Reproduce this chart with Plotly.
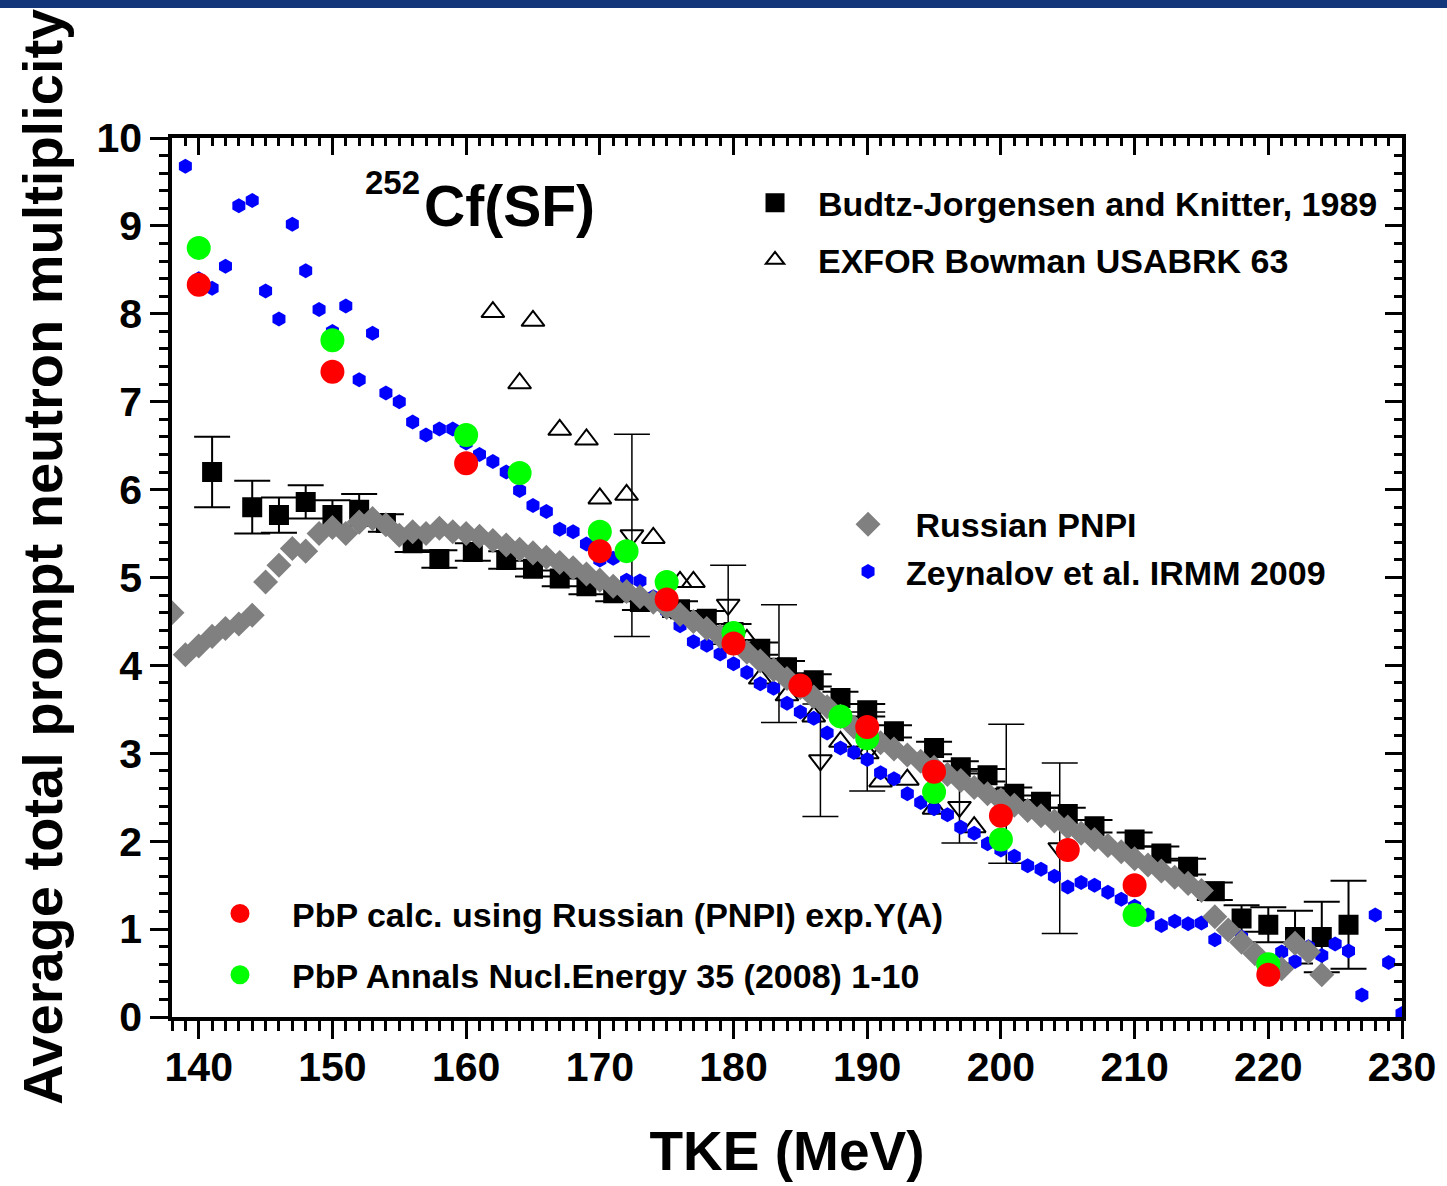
import plotly.graph_objects as go

# ---- Budtz-Jorgensen and Knitter, 1989 (squares with uncertainties)
bj_tke = [141, 144, 146, 148, 150, 152, 154, 156, 158, 160.5, 163, 165, 167, 169, 171, 173,
          176, 178, 180, 182, 184, 186, 188, 190, 192, 195, 197, 199, 201, 203, 205, 207,
          210, 212, 214, 216, 218, 220, 222, 224, 226]
bj_nu = [6.20, 5.80, 5.71, 5.86, 5.71, 5.77, 5.62, 5.39, 5.21, 5.29, 5.20, 5.10, 4.99, 4.90, 4.82, 4.72,
         4.64, 4.53, 4.38, 4.19, 3.98, 3.83, 3.63, 3.49, 3.25, 3.06, 2.84, 2.75, 2.54, 2.45, 2.31, 2.17,
         2.02, 1.86, 1.71, 1.43, 1.12, 1.05, 0.91, 0.91, 1.05]
bj_err = [0.40, 0.30, 0.20, 0.19, 0.17, 0.18, 0.10, 0.10, 0.10, 0.10, 0.10, 0.09, 0.09, 0.09, 0.09, 0.09,
          0.09, 0.09, 0.09, 0.07, 0.07, 0.07, 0.07, 0.07, 0.07, 0.07, 0.07, 0.07, 0.07, 0.07, 0.07, 0.07,
          0.08, 0.08, 0.09, 0.10, 0.15, 0.20, 0.30, 0.40, 0.50]

# ---- EXFOR Bowman USABRK 63 (open up-triangles)
bow_tke = [162, 164, 165, 167, 169, 170, 172, 174, 176, 177, 181, 182, 184, 186, 188, 190, 191,
           193, 195, 198]
bow_nu = [8.02, 7.21, 7.92, 6.68, 6.57, 5.90, 5.94, 5.45, 4.95, 4.95, 4.29, 3.85, 3.66, 3.42, 3.13,
          3.00, 2.68, 2.70, 2.37, 2.16]

# ---- further EXFOR points with uncertainties (open down-triangles)
bowd_tke = [172.4, 179.6, 183.4, 186.5, 190.0, 196.9, 200.4, 204.4]
bowd_nu = [5.48, 4.69, 4.02, 2.92, 3.02, 2.39, 2.54, 1.92]
bowd_err = [1.15, 0.45, 0.67, 0.64, 0.45, 0.41, 0.79, 0.97]

# ---- Zeynalov et al. IRMM 2009 (blue hexagons, 1 MeV steps)
zey_tke = list(range(139, 231))
zey_nu = [9.68, 8.40, 8.29, 8.54, 9.23, 9.29, 8.26, 7.94, 9.02, 8.49,
          8.05, 7.80, 8.09, 7.25, 7.78, 7.10, 7.00, 6.77, 6.62, 6.69,
          6.69, 6.53, 6.40, 6.32, 6.20, 5.99, 5.82, 5.75, 5.55, 5.52,
          5.38, 5.20, 5.22, 4.97, 4.96, 4.78, 4.62, 4.45, 4.27, 4.23,
          4.13, 4.02, 3.92, 3.79, 3.74, 3.57, 3.47, 3.40, 3.23, 3.06,
          3.01, 2.93, 2.78, 2.71, 2.54, 2.44, 2.37, 2.30, 2.16, 2.09,
          1.97, 1.90, 1.83, 1.72, 1.68, 1.60, 1.48, 1.53, 1.50, 1.42,
          1.34, 1.26, 1.16, 1.04, 1.09, 1.06, 1.07, 0.88, 0.99, 0.91,
          0.71, 0.63, 0.74, 0.63, 0.80, 0.70, 0.83, 0.75, 0.25, 1.16,
          0.62, 0.04]

# ---- Russian PNPI (grey diamonds)
pnpi_tke = list(range(138, 225))
pnpi_nu = [4.60, 4.12, 4.22, 4.33, 4.42, 4.47, 4.57, 4.95, 5.14, 5.33,
           5.30, 5.50, 5.57, 5.50, 5.63, 5.67, 5.60, 5.48, 5.52, 5.50,
           5.56, 5.52, 5.50, 5.47, 5.42, 5.37, 5.32, 5.28, 5.23, 5.17,
           5.11, 5.04, 4.97, 4.90, 4.84, 4.78, 4.72, 4.66, 4.58, 4.50,
           4.42, 4.33, 4.25, 4.15, 4.05, 3.95, 3.85, 3.75, 3.64, 3.53,
           3.42, 3.30, 3.19, 3.12, 3.05, 2.98, 2.91, 2.84, 2.76, 2.69,
           2.61, 2.54, 2.47, 2.41, 2.35, 2.29, 2.23, 2.16, 2.09, 2.02,
           1.95, 1.88, 1.80, 1.73, 1.66, 1.59, 1.52, 1.44, 1.14, 0.99,
           0.85, 0.72, 0.58, 0.55, 0.84, 0.74, 0.48]

# ---- PbP calculations
pbp_calc_tke = [140, 150, 160, 170, 175, 180, 185, 190, 195, 200, 205, 210, 220]
pbp_calc_nu = [8.33, 7.34, 6.30, 5.30, 4.75, 4.25, 3.77, 3.30, 2.79, 2.29, 1.90, 1.50, 0.48]

pbp_ann_tke = [140, 150, 160, 164, 170, 172, 175, 180, 188, 190, 195, 200, 210, 220]
pbp_ann_nu = [8.75, 7.70, 6.62, 6.19, 5.52, 5.30, 4.95, 4.37, 3.42, 3.17, 2.56, 2.02, 1.16, 0.60]

x_ticks = [140, 150, 160, 170, 180, 190, 200, 210, 220, 230]

FONT = "Liberation Sans"

fig = go.Figure()

fig.add_trace(go.Scatter(
    x=bj_tke, y=bj_nu, mode="markers", name="Budtz-Jorgensen and Knitter, 1989",
    marker=dict(symbol="square", size=17, color="black", line=dict(width=3, color="black")),
    error_y=dict(type="data", array=bj_err, color="black", thickness=2, width=18),
    legend="legend", legendgroup="a"))
fig.add_trace(go.Scatter(
    x=bow_tke, y=bow_nu, mode="markers", name="EXFOR Bowman USABRK 63",
    marker=dict(symbol="triangle-up-open", size=20, color="black", line=dict(width=2)),
    legend="legend", legendgroup="b"))
fig.add_trace(go.Scatter(
    x=bowd_tke, y=bowd_nu, mode="markers", name="EXFOR", showlegend=False,
    marker=dict(symbol="triangle-down-open", size=20, color="black", line=dict(width=2)),
    error_y=dict(type="data", array=bowd_err, color="black", thickness=1.5, width=18)))
fig.add_trace(go.Scatter(
    x=zey_tke, y=zey_nu, mode="markers", name="Zeynalov et al. IRMM 2009",
    marker=dict(symbol="hexagon", size=15, color="#0000ff"),
    legend="legend2", legendrank=2))
fig.add_trace(go.Scatter(
    x=pnpi_tke, y=pnpi_nu, mode="markers", name="\u00a0Russian PNPI",
    marker=dict(symbol="diamond", size=16, color="#808080", line=dict(width=3, color="#808080")),
    legend="legend2", legendrank=1))
fig.add_trace(go.Scatter(
    x=pbp_ann_tke, y=pbp_ann_nu, mode="markers", name="PbP Annals Nucl.Energy 35 (2008) 1-10",
    marker=dict(symbol="circle", size=21, color="#00ff00", line=dict(width=3, color="#00ff00")),
    legend="legend3", legendrank=2, legendgroup="d"))
fig.add_trace(go.Scatter(
    x=pbp_calc_tke, y=pbp_calc_nu, mode="markers", name="PbP calc. using Russian (PNPI) exp.Y(A)",
    marker=dict(symbol="circle", size=21, color="#ff0000", line=dict(width=3, color="#ff0000")),
    legend="legend3", legendrank=1, legendgroup="c"))
# transparent copy on the mirrored axes so the top/right frame ticks are rendered
fig.add_trace(go.Scatter(
    x=pnpi_tke, y=pnpi_nu, xaxis="x2", yaxis="y2", mode="markers", showlegend=False,
    hoverinfo="skip", marker=dict(opacity=0)))

tickfont = dict(family=FONT, size=41, color="black", weight="bold")
legfont = dict(family=FONT, size=34, color="black", weight="bold")

axis_common = dict(showline=True, linewidth=3.5, linecolor="black", showgrid=False,
                   zeroline=False, tickwidth=3, tickcolor="black")

fig.update_layout(
    width=1447, height=1186,
    margin=dict(l=172, r=45, t=138, b=169),
    plot_bgcolor="white", paper_bgcolor="white",
    xaxis=dict(range=[138, 230], tickmode="array", tickvals=x_ticks,
               ticks="outside", ticklen=18, tickfont=tickfont, ticklabelstandoff=-7,
               minor=dict(ticks="outside", ticklen=10, tickwidth=3, tickcolor="black", dtick=1, tick0=138),
               title=dict(text="TKE (MeV)", font=dict(family=FONT, size=55, color="black", weight="bold"),
                          standoff=44),
               **axis_common),
    xaxis2=dict(range=[138, 230], overlaying="x", side="top", anchor="y", tickmode="array",
                tickvals=x_ticks, ticks="inside", ticklen=17, showticklabels=False,
                minor=dict(ticks="inside", ticklen=8, tickwidth=3, tickcolor="black", dtick=1, tick0=138),
                **axis_common),
    yaxis=dict(range=[0, 10], tickmode="linear", tick0=0, dtick=1, ticks="outside", ticklen=18,
               tickfont=tickfont,
               minor=dict(ticks="outside", ticklen=9, tickwidth=3, tickcolor="black", dtick=0.2),
               **axis_common),
    yaxis2=dict(range=[0, 10], overlaying="y", side="right", anchor="x", tickmode="linear", tick0=0,
                dtick=1, ticks="inside", ticklen=17, showticklabels=False,
                minor=dict(ticks="inside", ticklen=8, tickwidth=3, tickcolor="black", dtick=0.2),
                **axis_common),
    legend=dict(x=0.4553, y=0.959, xanchor="left", yanchor="top", font=legfont, bgcolor="rgba(0,0,0,0)",
                traceorder="grouped", tracegroupgap=10, itemsizing="trace", itemwidth=76),
    legend2=dict(x=0.535, y=0.5932, xanchor="left", yanchor="top", font=legfont, bgcolor="rgba(0,0,0,0)",
                 traceorder="normal", itemsizing="trace", itemwidth=66),
    legend3=dict(x=0.013, y=0.1502, xanchor="left", yanchor="top", font=legfont, bgcolor="rgba(0,0,0,0)",
                 traceorder="grouped", tracegroupgap=14, itemsizing="trace", itemwidth=94),
    showlegend=True,
)

# navy band across the top of the page
fig.add_shape(type="rect", xref="paper", yref="paper",
              x0=-172 / 1230, x1=1275 / 1230, y0=(1017 - 8) / 879, y1=1017 / 879 + 0.01,
              fillcolor="#13357a", line=dict(width=0), layer="above")

# rotated y-axis title
fig.add_annotation(text="Average total prompt neutron multiplicity", textangle=-90,
                   xref="paper", yref="paper", x=(42 - 172) / 1230, y=(1017 - 557) / 879,
                   xanchor="center", yanchor="middle", showarrow=False,
                   font=dict(family=FONT, size=56, color="black", weight="bold"))

# nuclide label
fig.add_annotation(text="252", xref="paper", yref="paper", x=(363 - 172) / 1230, y=(1017 - 182) / 879,
                   xanchor="left", yanchor="middle", showarrow=False,
                   font=dict(family=FONT, size=33, color="black", weight="bold"))
fig.add_annotation(text="Cf(SF)", xref="paper", yref="paper", x=(422 - 172) / 1230, y=(1017 - 206) / 879,
                   xanchor="left", yanchor="middle", showarrow=False,
                   font=dict(family=FONT, size=57, color="black", weight="bold"))

fig.write_html("out.html")
